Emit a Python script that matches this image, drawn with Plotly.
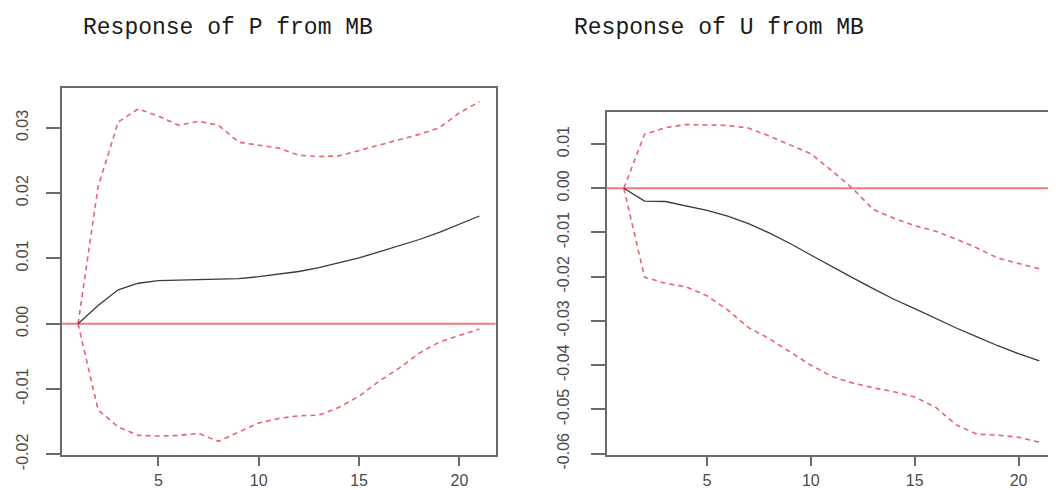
import plotly.graph_objects as go

horizon = list(range(1, 22))

# Response of P from MB
p_irf = [0, 0.0028, 0.0052, 0.0062, 0.0066, 0.0067, 0.0067, 0.0068, 0.0069, 0.0072, 0.0076,
         0.0080, 0.0086, 0.0093, 0.0101, 0.0110, 0.0119, 0.0129, 0.0140, 0.0152, 0.0165]
p_upper = [0, 0.0210, 0.0309, 0.0329, 0.0318, 0.0304, 0.0310, 0.0304, 0.0278, 0.0274, 0.0269,
           0.0258, 0.0256, 0.0257, 0.0265, 0.0274, 0.0281, 0.0290, 0.0300, 0.0323, 0.0340]
p_lower = [0, -0.0132, -0.0158, -0.0171, -0.0172, -0.0171, -0.0168, -0.0180, -0.0166, -0.0152, -0.0145,
           -0.0141, -0.0140, -0.0128, -0.0111, -0.0088, -0.0068, -0.0045, -0.0028, -0.0018, -0.0008]

# Response of U from MB
u_irf = [0, -0.0029, -0.0030, -0.0040, -0.0050, -0.0063, -0.0080, -0.0101, -0.0125, -0.0151, -0.0177,
         -0.0202, -0.0227, -0.0251, -0.0272, -0.0294, -0.0316, -0.0336, -0.0356, -0.0374, -0.0390]
u_upper = [0, 0.0122, 0.0137, 0.0144, 0.0143, 0.0142, 0.0136, 0.0118, 0.0098, 0.0078, 0.0040,
           0.0000, -0.0048, -0.0068, -0.0085, -0.0097, -0.0115, -0.0135, -0.0158, -0.0170, -0.0182]
u_lower = [0, -0.0201, -0.0215, -0.0223, -0.0243, -0.0275, -0.0315, -0.0340, -0.0370, -0.0400, -0.0425,
           -0.0440, -0.0451, -0.0460, -0.0472, -0.0495, -0.0535, -0.0556, -0.0558, -0.0563, -0.0574]

titles = ["Response of P from MB", "Response of U from MB"]
x_ticks = [5, 10, 15, 20]
p_yticks = [-0.02, -0.01, 0.00, 0.01, 0.02, 0.03]
u_yticks = [-0.06, -0.05, -0.04, -0.03, -0.02, -0.01, 0.00, 0.01]

# the page body has an 8px default margin; map screen pixels to figure pixels
OFF = 8
W, H = 1056 - OFF, 490 - OFF

def fx(px):
    return (px - OFF) / W

def fy(py):
    return 1 - (py - OFF) / H

BOX = "#6a6a6a"
DASH = "#e6656f"
ZERO = "#f07a7a"
LINE = "#3a3a3a"
TICKFONT = dict(family="Liberation Sans, Arial, sans-serif", size=16, color="#4a4a4a")

fig = go.Figure()

def add_panel(xa, ya, irf, up, lo):
    for ser, col, dash, w in [(up, DASH, "5px,4px", 1.6), (lo, DASH, "5px,4px", 1.6), (irf, LINE, "solid", 1.3)]:
        fig.add_trace(go.Scatter(x=horizon, y=ser, mode="lines", xaxis=xa, yaxis=ya,
                                 line=dict(color=col, width=w, dash=dash), showlegend=False,
                                 hoverinfo="skip"))

add_panel("x", "y", p_irf, p_upper, p_lower)
add_panel("x2", "y2", u_irf, u_upper, u_lower)

# zero reference lines
fig.add_shape(type="line", xref="x domain", yref="y", x0=0, x1=1, y0=0, y1=0,
              line=dict(color=ZERO, width=2), layer="below")
fig.add_shape(type="line", xref="x2 domain", yref="y2", x0=0, x1=1, y0=0, y1=0,
              line=dict(color=ZERO, width=2), layer="below")

def fmt(v):
    return f"{v:.2f}"

common_x = dict(tickmode="array", tickvals=x_ticks, ticktext=[str(t) for t in x_ticks],
                ticks="outside", ticklen=9, tickwidth=1.5, tickcolor=BOX, automargin=False,
                showline=True, linecolor=BOX, linewidth=1.5, showgrid=False, zeroline=False,
                tickfont=TICKFONT, ticklabelstandoff=1)
common_y = dict(ticks="outside", ticklen=14, tickwidth=1.5, tickcolor=BOX, tickangle=-90,
                showline=True, linecolor=BOX, linewidth=1.5, showgrid=False, zeroline=False,
                automargin=False, tickfont=TICKFONT, tickmode="array")

fig.update_layout(
    width=W, height=H, margin=dict(l=0, r=0, t=0, b=0, autoexpand=False),
    paper_bgcolor="white", plot_bgcolor="white",
    xaxis=dict(common_x, domain=[fx(62), fx(495.5)], range=[0.2, 21.8], anchor="y", mirror=True),
    yaxis=dict(common_y, domain=[fy(455), fy(88)], range=[-0.0201, 0.0361], anchor="x",
               mirror=True, tickvals=p_yticks, ticktext=[fmt(v) for v in p_yticks],
               ticklabelstandoff=12),
    xaxis2=dict(common_x, domain=[fx(607.2), 1.0], range=[0.2, 21.8], anchor="y2", mirror=True),
    yaxis2=dict(common_y, domain=[fy(455), fy(111.7)], range=[-0.0603, 0.0173], anchor="x2",
                mirror=False, tickvals=u_yticks, ticktext=[fmt(v) for v in u_yticks],
                ticklabelstandoff=16),
)

title_font = dict(family="Liberation Mono, DejaVu Sans Mono, monospace", size=23, color="#1a1a1a")
for tx, xpos in zip(titles, [81, 572]):
    fig.add_annotation(text=tx, xref="paper", yref="paper", x=fx(xpos), y=fy(28),
                       xanchor="left", yanchor="middle", showarrow=False, font=title_font)

fig.write_html("out.html")
